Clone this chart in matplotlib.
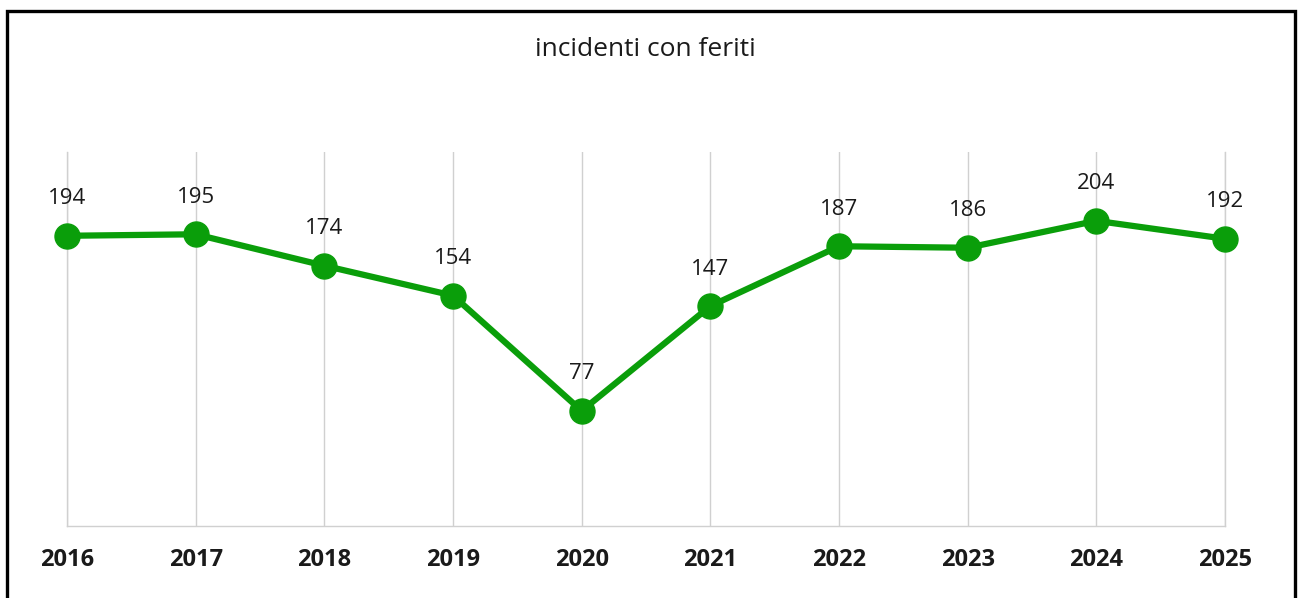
import matplotlib.pyplot as plt
from matplotlib.patches import Rectangle

# dati
anni = [2016, 2017, 2018, 2019, 2020, 2021, 2022, 2023, 2024, 2025]
feriti = [194, 195, 174, 154, 77, 147, 187, 186, 204, 192]

verde = '#0A9E0A'
plt.rcParams['font.family'] = ['Open Sans', 'DejaVu Sans']

fig = plt.figure(figsize=(13.02, 5.98), dpi=100)
ax = fig.add_axes([67 / 1302, 1 - 526 / 598, (1225 - 67) / 1302, (526 - 152) / 598])

ax.plot(anni, feriti, color=verde, linewidth=4.5, marker='o', markersize=18,
        clip_on=False, zorder=3)

for x, y in zip(anni, feriti):
    ax.annotate(str(y), (x, y), xytext=(0, 19), textcoords='offset points',
                ha='center', va='bottom', fontsize=16, color='#1a1a1a')

ax.set_xlim(anni[0], anni[-1])
ax.set_ylim(0, 250)
ax.set_xticks(anni)
ax.set_xticklabels([str(a) for a in anni], fontsize=17, fontweight='bold', color='#1a1a1a')
ax.tick_params(axis='x', length=0, pad=16)
ax.set_yticks([])
ax.grid(axis='x', color='#d0d0d0', linewidth=1)
ax.spines['top'].set_visible(False)
for s in ['left', 'right', 'bottom']:
    ax.spines[s].set_color('#d0d0d0')
    ax.spines[s].set_linewidth(1)

fig.text(645 / 1302, 1 - 50 / 598, 'incidenti con feriti', ha='center', va='center',
         fontsize=19, color='#1a1a1a')

# cornice
fig.patches.append(Rectangle((6.5 / 1302, -0.05), (1294.5 - 6.5) / 1302, 1.05 - 11.5 / 598,
                             transform=fig.transFigure, fill=False, edgecolor='black',
                             linewidth=2.4))

fig.savefig('out.png', dpi=100)
